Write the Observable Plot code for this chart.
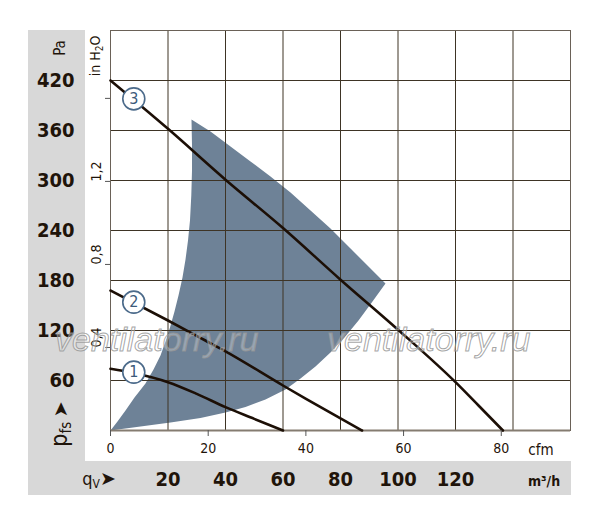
<!DOCTYPE html>
<html>
<head>
<meta charset="utf-8">
<script src="https://cdn.jsdelivr.net/npm/d3@7"></script>
<script src="https://cdn.jsdelivr.net/npm/@observablehq/plot@0.6"></script>
<style>
  body { margin: 0; background: #fff; }
  #wrap { position: relative; width: 600px; height: 525px; overflow: hidden;
          font-family: "Liberation Sans Narrow", "DejaVu Sans Condensed", "Roboto", sans-serif; color: #1f140a; }
  .panel { position: absolute; background: #d8d8d8; }
  .lbl { position: absolute; white-space: nowrap; line-height: 1; }
  .wm { position: absolute; white-space: nowrap; line-height: 1; font-family: "Liberation Sans", Arial, sans-serif;
        font-style: italic; font-size: 34px; color: rgba(255,255,255,0.28);
        -webkit-text-stroke: 1px rgba(150,150,150,0.85); }
  #chart svg { background: transparent !important; overflow: visible; }
</style>
</head>
<body>
<div id="wrap">
  <div class="panel" style="left:28px;top:30px;width:57px;height:465px"></div>
  <div class="panel" style="left:28px;top:461px;width:543px;height:34px"></div>
  <div id="chart" style="position:absolute;left:0;top:0"></div>
</div>
<script>
// ---- data (flow in m³/h, static pressure in Pa) ----
const curve1Q = [0, 8, 20, 30, 40, 50, 60];
const curve1P = [74, 69, 58, 44, 28, 14, 0];
const curve2Q = [0, 20, 33, 40, 60, 68, 87.5];
const curve2P = [168, 132, 108, 95, 54, 38, 0];
const curve3Q = [0, 20, 40, 60, 80, 100, 120, 128, 136.5];
const curve3P = [420, 362, 301, 243, 181, 121, 58, 30, 0];

// operating range (shaded): left edge up, upper edge to tip, lower edge back to origin
const shadeQ = [0, 2.43, 5.22, 8.35, 12.17, 14.96, 17.39, 19.13, 20.70, 22.26, 23.65, 25.04, 26.09, 26.96,
                27.65, 28.10, 28.35, 28.35, 28.17,
                34.78, 41.74, 48.70, 55.65, 62.61, 69.57, 76.52, 83.48, 90.43, 95.65,
                91.13, 86.26, 81.39, 76.52, 71.30, 66.09, 60.87, 53.91, 46.96, 40.0, 31.30, 20.87, 10.43, 0];
const shadeP = [0, 10.8, 24, 39.6, 56.4, 73.2, 90, 106.8, 123.6, 142.8, 162, 183.6, 205.2, 228,
                252, 282, 312, 342, 373.2,
                358.8, 340.8, 322.8, 304.8, 285.6, 264.0, 242.4, 218.4, 194.4, 176.4,
                154.8, 132, 111.6, 93.6, 76.8, 62.4, 49.2, 37.2, 28.2, 21.6, 15, 9.6, 4.8, 0];

const curveNames = ["1", "2", "3"];
const labelQ = [8.1, 8.1, 8.1];
const labelP = [70, 154, 398];

const paTicks = [60, 120, 180, 240, 300, 360, 420];
const paGrid = [60, 120, 180, 240, 300, 360, 420, 480];
const m3hTicks = [20, 40, 60, 80, 100, 120];
const m3hGrid = [20, 40, 60, 80, 100, 120, 140, 160];
const cfmTicks = [0, 20, 40, 60, 80];
const inH2OTicks = [0.4, 0.8, 1.2, 1.6];
const inH2OLabels = ["0,4", "0,8", "1,2", ""];

const PA_PER_INH2O = 249.089;
const M3H_PER_CFM = 1.699;

// ---- tables ----
const toRows = (qs, ps) => qs.map((q, i) => ({q, p: ps[i]}));
const shade = toRows(shadeQ, shadeP);
const curves = [
  ...toRows(curve1Q, curve1P).map(d => ({...d, c: "1"})),
  ...toRows(curve2Q, curve2P).map(d => ({...d, c: "2"})),
  ...toRows(curve3Q, curve3P).map(d => ({...d, c: "3"}))
];
const labels = curveNames.map((t, i) => ({t, q: labelQ[i], p: labelP[i]}));
const inH2O = inH2OTicks.map((v, i) => ({p: v * PA_PER_INH2O, t: inH2OLabels[i]}));

const font = '"Liberation Sans Narrow", "DejaVu Sans Condensed", "Roboto", sans-serif';

const chart = Plot.plot({
  width: 600,
  height: 525,
  marginLeft: 110,
  marginRight: 30,
  marginTop: 30,
  marginBottom: 95,
  style: {background: "transparent", fontFamily: font, color: "#1f140a"},
  x: {domain: [0, 160], axis: null},
  y: {domain: [0, 480], axis: null},
  marks: [
    Plot.line(shade, {x: "q", y: "p", fill: "#6e8297", stroke: "none", curve: "linear"}),
    Plot.gridX(m3hGrid, {stroke: "#3e3425", strokeOpacity: 1, strokeWidth: 1}),
    Plot.gridY(paGrid, {stroke: "#3e3425", strokeOpacity: 1, strokeWidth: 1}),
    Plot.frame({stroke: "#6a6157"}),
    Plot.ruleY([0], {stroke: "#857c71", strokeWidth: 2}),
    Plot.line(curves, {x: "q", y: "p", z: "c", stroke: "#1c0f06", strokeWidth: 2.6, curve: "monotone-x"}),
    Plot.dot(labels, {x: "q", y: "p", r: 11, fill: "white", stroke: "#4b6a8a", strokeWidth: 1.6}),
    Plot.text(labels, {x: "q", y: "p", text: "t", fill: "#3c5a7a", fontSize: 16}),
    // Pa axis (bold labels in grey panel)
    Plot.axisY(paTicks, {anchor: "left", tickSize: 0, tickPadding: 36, fontSize: 20, fontWeight: "bold",
                         label: null, fill: "#1f140a"}),
    // in H2O ticks
    Plot.axisY(inH2O.map(d => d.p), {anchor: "left", tickSize: 5, tickFormat: () => "", label: null, stroke: "#555"}),
    Plot.text(inH2O, {y: "p", text: "t", frameAnchor: "left", dx: -14, rotate: -90, fontSize: 14, fill: "#1f140a"}),
    // cfm axis
    Plot.axisX(cfmTicks.map(c => c * M3H_PER_CFM), {anchor: "bottom", tickSize: 6, tickPadding: 7,
                tickFormat: d => String(Math.round(d / M3H_PER_CFM)), fontSize: 14, label: null, stroke: "#555"}),
    // m³/h labels in grey band
    Plot.axisX(m3hTicks, {anchor: "bottom", tickSize: 0, tickPadding: 41, fontSize: 20, fontWeight: "bold",
                label: null, fill: "#1f140a"})
  ]
});
document.getElementById("chart").appendChild(chart);

// ---- extra text ----
const wrap = document.getElementById("wrap");
function label(html, x, y, css, rotate) {
  const d = document.createElement("div");
  d.className = "lbl";
  d.innerHTML = html;
  d.style.left = x + "px";
  d.style.top = y + "px";
  d.style.transform = "translate(-50%,-50%)" + (rotate ? " rotate(-90deg)" : "");
  d.style.cssText += css;
  wrap.appendChild(d);
}
label("Pa", 60, 48, "font-size:15px;", true);
label('in H<sub style="font-size:10px;vertical-align:-3px">2</sub>O', 96, 56, "font-size:14px;", true);
label('<span style="font-size:23px">p</span><sub style="font-size:15px;vertical-align:-4px">fs</sub>&nbsp;<span style="font-family:\'DejaVu Sans\';font-size:19px">&#10148;</span>',
      61, 424, "", true);
label('<span style="font-size:18px">q</span><sub style="font-size:12px;vertical-align:-3px">V</sub><span style="font-family:\'DejaVu Sans\';font-size:19px">&#10148;</span>',
      99, 479, "", false);
label("cfm", 541, 450, "font-size:15px;", false);
label("m³/h", 544, 481, "font-size:14px;font-weight:bold;", false);

// watermark
function wm(x, y) {
  const d = document.createElement("div");
  d.className = "wm";
  d.textContent = "ventilatorry.ru";
  d.style.left = x + "px";
  d.style.top = y + "px";
  wrap.appendChild(d);
}
wm(55, 322);
wm(327, 322);
</script>
</body>
</html>
